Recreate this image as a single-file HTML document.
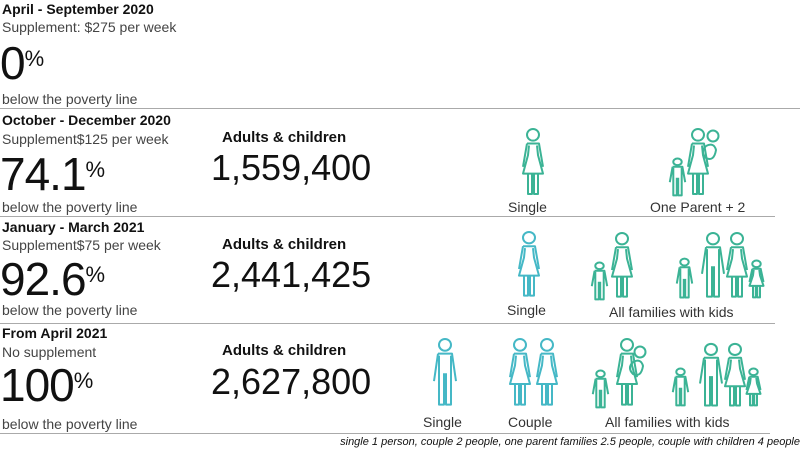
<!DOCTYPE html>
<html><head><meta charset="utf-8"><style>
body{margin:0;width:800px;height:451px;background:#fff;position:relative;overflow:hidden;font-family:"Liberation Sans",sans-serif;color:#111}
.t{position:absolute;white-space:nowrap}
.h{font-size:14px;font-weight:bold}
.s{font-size:14px;color:#444}
.big{font-size:46px;line-height:46px;letter-spacing:-1px}
.big sup{font-size:22px;vertical-align:top;position:relative;top:-4px;letter-spacing:0}
.ac{font-size:15px;font-weight:bold}
.num{font-size:36px;line-height:36px}
.l{font-size:14px;color:#333}
.hr{position:absolute;left:0;height:1px;background:#aaa}
use,circle,path{vector-effect:non-scaling-stroke}
</style></head><body>
<div class="t h" style="left:2px;top:1px">April - September 2020</div>
<div class="t s" style="left:2px;top:19px">Supplement: $275 per week</div>
<div class="t big" style="left:0;top:40px">0<sup>%</sup></div>
<div class="t s" style="left:2px;top:91px">below the poverty line</div>
<div class="hr" style="top:108px;width:800px"></div>

<div class="t h" style="left:2px;top:112px">October - December 2020</div>
<div class="t s" style="left:2px;top:131px">Supplement$125 per week</div>
<div class="t big" style="left:0;top:151px">74.1<sup>%</sup></div>
<div class="t s" style="left:2px;top:199px">below the poverty line</div>
<div class="t ac" style="left:222px;top:129px">Adults &amp; children</div>
<div class="t num" style="left:211px;top:150px">1,559,400</div>
<div class="t l" style="left:508px;top:199px">Single</div>
<div class="t l" style="left:650px;top:199px">One Parent + 2</div>
<div class="hr" style="top:216px;width:775px"></div>

<div class="t h" style="left:2px;top:219px">January - March 2021</div>
<div class="t s" style="left:2px;top:237px">Supplement$75 per week</div>
<div class="t big" style="left:0;top:256px">92.6<sup>%</sup></div>
<div class="t s" style="left:2px;top:302px">below the poverty line</div>
<div class="t ac" style="left:222px;top:236px">Adults &amp; children</div>
<div class="t num" style="left:211px;top:257px">2,441,425</div>
<div class="t l" style="left:507px;top:302px">Single</div>
<div class="t l" style="left:609px;top:304px">All families with kids</div>
<div class="hr" style="top:323px;width:775px"></div>

<div class="t h" style="left:2px;top:325px">From April 2021</div>
<div class="t s" style="left:2px;top:344px">No supplement</div>
<div class="t big" style="left:0;top:362px">100<sup>%</sup></div>
<div class="t s" style="left:2px;top:416px">below the poverty line</div>
<div class="t ac" style="left:222px;top:342px">Adults &amp; children</div>
<div class="t num" style="left:211px;top:364px">2,627,800</div>
<div class="t l" style="left:423px;top:414px">Single</div>
<div class="t l" style="left:508px;top:414px">Couple</div>
<div class="t l" style="left:605px;top:414px">All families with kids</div>
<div class="hr" style="top:433px;width:770px"></div>
<div class="t" style="right:0;top:436px;font-size:11px;font-style:italic">single 1 person, couple 2 people, one parent families 2.5 people, couple with children 4 people</div>

<svg width="800" height="451" style="position:absolute;left:0;top:0" fill="none" stroke-width="2" stroke-linejoin="round">
<defs>
<g id="w"><circle cx="15" cy="7" r="6"/><path d="M9 16 L21 16 L25 40 M9 16 L5 40 M11 18 L10 28 L5 47 L25 47 L20 28 L19 18 M10 47 V68 H14 V47 M16 47 V68 H20 V47"/></g>
<g id="m"><circle cx="15" cy="7" r="6"/><path d="M8 16 H22 L26 44 M8 16 L4 44 M9 18 V68 H14 V36 M16 36 V68 H21 V18"/></g>
</defs>
<g stroke="#3bb395">
<use href="#w" transform="translate(518,128) scale(1,0.97)"/>
<use href="#w" transform="translate(683,128) scale(1,0.97)"/>
<circle cx="713" cy="136" r="5.5"/><path d="M706 146 Q700 152 706 158 Q714 162 716 150 Q714 142 706 146"/>
<use href="#m" transform="translate(667,158) scale(0.7,0.55)"/>
</g>
<g stroke="#45b8c6">
<use href="#w" transform="translate(514,231) scale(1,0.95)"/>
<use href="#m" transform="translate(430,338) scale(1,0.98)"/>
<use href="#w" transform="translate(505,338) scale(1,0.98)"/>
<use href="#w" transform="translate(532,338) scale(1,0.98)"/>
</g>
<g stroke="#3bb395">
<use href="#w" transform="translate(607,232) scale(1,0.95)"/>
<use href="#m" transform="translate(589,262) scale(0.7,0.55)"/>
<use href="#m" transform="translate(698,232) scale(1,0.95)"/>
<use href="#w" transform="translate(722,232) scale(1,0.95)"/>
<use href="#m" transform="translate(674,258) scale(0.7,0.58)"/>
<use href="#w" transform="translate(746,260) scale(0.7,0.55)"/>

<use href="#w" transform="translate(612,338) scale(1,0.98)"/>
<circle cx="640" cy="352" r="5.5"/><path d="M633 362 Q627 368 633 374 Q641 378 643 366 Q641 358 633 362"/>
<use href="#m" transform="translate(590,370) scale(0.7,0.55)"/>
<use href="#m" transform="translate(696,343) scale(1,0.92)"/>
<use href="#w" transform="translate(720,343) scale(1,0.92)"/>
<use href="#m" transform="translate(670,368) scale(0.7,0.55)"/>
<use href="#w" transform="translate(743,368) scale(0.7,0.55)"/>
</g>
</svg>
</body></html>
